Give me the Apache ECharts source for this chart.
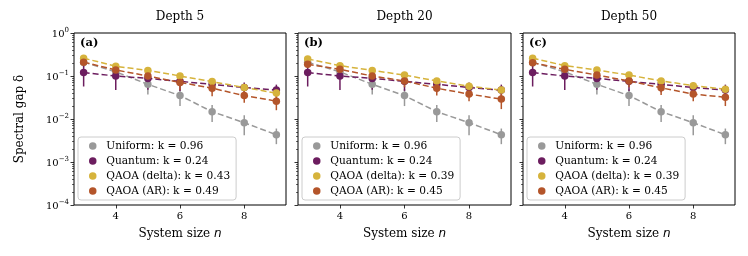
<!DOCTYPE html>
<html>
<head>
<meta charset="utf-8">
<script src="https://cdn.jsdelivr.net/npm/echarts@6/dist/echarts.min.js"></script>
<style>
html,body{margin:0;padding:0;background:#fff;}
#chart{width:748px;height:256px;}
</style>
</head>
<body>
<div id="chart"></div>
<script>
// ---------------- data ----------------
const systemSizes = [3, 4, 5, 6, 7, 8, 9];
const panelTitles = ['Depth 5', 'Depth 20', 'Depth 50'];
const panelLetters = ['(a)', '(b)', '(c)'];

const uniformGap = [0.21, 0.125, 0.064, 0.035, 0.0148, 0.0082, 0.0043];
const uniformErr = [0.05, 0.04, 0.027, 0.015, 0.0063, 0.004, 0.0017];
const quantumGap = [0.12, 0.10, 0.088, 0.075, 0.064, 0.054, 0.047];
const quantumErr = [0.063, 0.053, 0.04, 0.03, 0.022, 0.017, 0.016];

const deltaGapA = [0.26, 0.168, 0.135, 0.10, 0.074, 0.054, 0.040];
const deltaErrA = [0.03, 0.025, 0.02, 0.015, 0.012, 0.009, 0.007];
const arGapA = [0.21, 0.138, 0.10, 0.071, 0.052, 0.035, 0.026];
const arErrA = [0.03, 0.03, 0.025, 0.024, 0.018, 0.011, 0.010];

const deltaGapB = [0.25, 0.174, 0.135, 0.105, 0.0766, 0.058, 0.047];
const deltaErrB = [0.03, 0.025, 0.02, 0.015, 0.012, 0.009, 0.007];
const arGapB = [0.187, 0.143, 0.10, 0.0766, 0.052, 0.038, 0.029];
const arErrB = [0.03, 0.03, 0.025, 0.022, 0.017, 0.012, 0.012];

const deltaGapC = [0.26, 0.174, 0.138, 0.105, 0.077, 0.0597, 0.049];
const deltaErrC = [0.03, 0.025, 0.02, 0.015, 0.012, 0.009, 0.007];
const arGapC = [0.204, 0.143, 0.105, 0.0766, 0.053, 0.038, 0.032];
const arErrC = [0.03, 0.03, 0.025, 0.022, 0.017, 0.012, 0.012];

const seriesNamesA = ['Uniform: k = 0.96', 'Quantum: k = 0.24', 'QAOA (delta): k = 0.43', 'QAOA (AR): k = 0.49'];
const seriesNamesBC = ['Uniform: k = 0.96', 'Quantum: k = 0.24', 'QAOA (delta): k = 0.39', 'QAOA (AR): k = 0.45'];

const xTickValues = [4, 6, 8];
const yTickValues = [1e-4, 1e-3, 1e-2, 1e-1, 1];
const yTickExponents = ['−4', '−3', '−2', '−1', '0'];
const yMinorTickValues = [];
for (const d of [1e-4, 1e-3, 1e-2, 1e-1]) {
  for (const m of [2, 3, 4, 5, 6, 7, 8, 9]) yMinorTickValues.push(+(m * d).toPrecision(3));
}

// ---------------- style ----------------
const colors = ['#999999', '#6c1d5f', '#d6b33c', '#b4552a'];
const FONT = 'DejaVu Serif';
const gridLefts = [74, 298, 523];
const gridWidths = [212, 213, 212];
const gridTop = 33, gridHeight = 172;

const panels = [
  { names: seriesNamesA, vals: [uniformGap, quantumGap, deltaGapA, arGapA], errs: [uniformErr, quantumErr, deltaErrA, arErrA] },
  { names: seriesNamesBC, vals: [uniformGap, quantumGap, deltaGapB, arGapB], errs: [uniformErr, quantumErr, deltaErrB, arErrB] },
  { names: seriesNamesBC, vals: [uniformGap, quantumGap, deltaGapC, arGapC], errs: [uniformErr, quantumErr, deltaErrC, arErrC] }
];

const grid = [], xAxis = [], yAxis = [], series = [], legend = [], graphic = [];

panels.forEach((p, pi) => {
  grid.push({ left: gridLefts[pi], top: gridTop, width: gridWidths[pi], height: gridHeight,
    show: true, borderColor: '#000', borderWidth: 1, backgroundColor: 'transparent' });
  xAxis.push({
    type: 'value', gridIndex: pi, min: 2.7, max: 9.3,
    name: 'System size {i|n}', nameLocation: 'middle', nameGap: 23,
    nameTextStyle: { fontFamily: FONT, fontSize: 12, color: '#000',
      rich: { i: { fontFamily: 'DejaVu Sans', fontStyle: 'italic', fontSize: 12, color: '#000' } } },
    axisLine: { show: false },
    splitLine: { show: false },
    axisTick: { show: true, length: 3.5, lineStyle: { color: '#000', width: 0.8 }, customValues: xTickValues },
    axisLabel: { show: true, margin: 6, fontFamily: FONT, fontSize: 10, color: '#000', customValues: xTickValues }
  });
  // major y axis
  yAxis.push({
    type: 'log', logBase: 10, gridIndex: pi, min: 1e-4, max: 1, position: 'left',
    name: pi === 0 ? 'Spectral gap δ' : '', nameLocation: 'middle', nameGap: 48,
    nameTextStyle: { fontFamily: FONT, fontSize: 12, color: '#000' },
    axisLine: { show: false },
    splitLine: { show: false },
    axisTick: { show: true, length: 3.5, lineStyle: { color: '#000', width: 0.8 }, customValues: yTickValues },
    axisLabel: {
      show: pi === 0, margin: 5, customValues: yTickValues,
      formatter: (v) => {
        const idx = yTickValues.findIndex(t => Math.abs(Math.log10(t) - Math.log10(v)) < 1e-6);
        return '{b|10}{s|' + (idx >= 0 ? yTickExponents[idx] : '') + '}';
      },
      rich: {
        b: { fontFamily: FONT, fontSize: 10, color: '#000', lineHeight: 13, verticalAlign: 'bottom' },
        s: { fontFamily: FONT, fontSize: 7, color: '#000', lineHeight: 8, verticalAlign: 'top' }
      }
    }
  });
  // minor-tick y axis
  yAxis.push({
    type: 'log', logBase: 10, gridIndex: pi, min: 1e-4, max: 1, position: 'left', offset: 0,
    axisLine: { show: false }, splitLine: { show: false }, axisLabel: { show: false },
    axisTick: { show: true, length: 2, lineStyle: { color: '#000', width: 0.6 }, customValues: yMinorTickValues }
  });

  p.names.forEach((nm, si) => {
    const errData = systemSizes.map((n, i) => [n, p.vals[si][i] - p.errs[si][i], p.vals[si][i] + p.errs[si][i]]);
    series.push({
      type: 'custom', xAxisIndex: pi, yAxisIndex: pi * 2, silent: true, z: 2,
      data: errData,
      encode: { x: 0, y: [1, 2] },
      renderItem: (params, api) => {
        const lo = api.coord([api.value(0), api.value(1)]);
        const hi = api.coord([api.value(0), api.value(2)]);
        return { type: 'line', shape: { x1: lo[0], y1: lo[1], x2: hi[0], y2: hi[1] },
          style: { stroke: colors[si], lineWidth: 1.5 } };
      }
    });
    series.push({
      type: 'line', name: nm, xAxisIndex: pi, yAxisIndex: pi * 2, z: 2,
      data: systemSizes.map((n, i) => [n, p.vals[si][i]]),
      symbol: 'circle', symbolSize: 7.5, showSymbol: true,
      itemStyle: { color: colors[si], borderWidth: 0 },
      lineStyle: { color: colors[si], width: 1.5, type: [6, 3] },
      emphasis: { disabled: true }
    });
  });

  legend.push({
    data: p.names.map(nm => ({ name: nm, icon: 'circle' })),
    orient: 'vertical', left: gridLefts[pi] + 4, top: 137,
    itemWidth: 13, itemHeight: 7.5, itemGap: 3,
    padding: [3, 6, 3, 11],
    backgroundColor: 'rgba(255,255,255,0.85)', borderColor: '#cccccc', borderWidth: 1, borderRadius: 3,
    itemStyle: { borderWidth: 0 },
    textStyle: { fontFamily: FONT, fontSize: 10.6, color: '#000', lineHeight: 12, padding: [0, 0, 0, 2] },
    selectedMode: false
  });

  graphic.push({ type: 'text', x: gridLefts[pi] + gridWidths[pi] / 2, y: 17, silent: true,
    style: { text: panelTitles[pi], fill: '#000', font: '12px "DejaVu Serif"', align: 'center', verticalAlign: 'middle' } });
  graphic.push({ type: 'text', x: gridLefts[pi] + 6, y: 43, silent: true, z: 100,
    style: { text: panelLetters[pi], fill: '#000', font: 'bold 11.5px "DejaVu Serif"', align: 'left', verticalAlign: 'middle' } });
});

const chart = echarts.init(document.getElementById('chart'), null, { renderer: 'canvas' });
chart.setOption({
  animation: false,
  backgroundColor: '#fff',
  grid, xAxis, yAxis, series, legend, graphic,
  tooltip: { show: false }
});
</script>
</body>
</html>
